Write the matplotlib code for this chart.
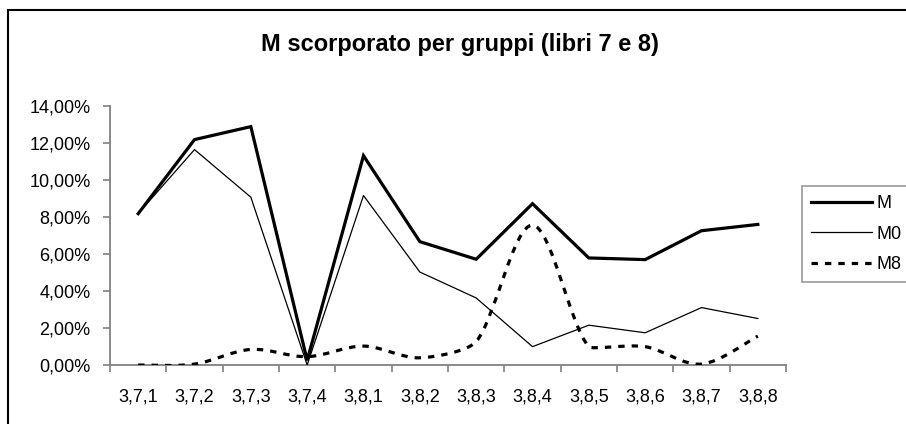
import matplotlib
matplotlib.use("Agg")
import matplotlib.pyplot as plt
from matplotlib.path import Path
from matplotlib.patches import PathPatch, Rectangle
from matplotlib.lines import Line2D
import numpy as np

categories = ["3,7,1", "3,7,2", "3,7,3", "3,7,4", "3,8,1", "3,8,2",
              "3,8,3", "3,8,4", "3,8,5", "3,8,6", "3,8,7", "3,8,8"]
M = [8.17, 12.17, 12.87, 0.25, 11.30, 6.66, 5.71, 8.71, 5.78, 5.69, 7.25, 7.59]
M0 = [8.17, 11.63, 9.06, 0.0, 9.15, 5.02, 3.62, 0.99, 2.15, 1.74, 3.10, 2.51]
M8 = [0.0, 0.05, 0.84, 0.45, 1.02, 0.39, 1.26, 7.55, 0.99, 0.99, 0.05, 1.56]
ytick_vals = [0, 2, 4, 6, 8, 10, 12, 14]
ytick_labels = ["0,00%", "2,00%", "4,00%", "6,00%", "8,00%", "10,00%", "12,00%", "14,00%"]
title = "M scorporato per gruppi (libri 7 e 8)"

plt.rcParams['font.family'] = ['Liberation Sans', 'DejaVu Sans']

W, H = 906, 424
fig = plt.figure(figsize=(W / 100, H / 100), dpi=100)
fig.patch.set_facecolor("white")

# outer chart border
fig.patches.append(Rectangle((8 / W, -0.1), 1.2, 1 - 10 / H + 0.1,
                             transform=fig.transFigure, fill=False,
                             edgecolor="black", linewidth=1.5))

ax = fig.add_axes([110 / W, (H - 365) / H, (786 - 110) / W, (365 - 105.7) / H])
x = np.arange(len(categories))
ax.set_xlim(-0.5, len(categories) - 0.5)
ax.set_ylim(0, 14)

ax.plot(x, M, color="black", linewidth=2.3, solid_joinstyle="miter", label="M", zorder=3)
ax.plot(x, M0, color="black", linewidth=0.9, label="M0", zorder=3)

# smoothed M8 (Excel-style smooth line: Bezier with capped control points)
pix = ax.transData.transform(np.column_stack([x, M8]).astype(float))
S = 8.0  # vertical stretch of the internal smoothing space
q = pix * np.array([1.0, S])
n = len(q)
verts = [tuple(q[0])]
codes = [Path.MOVETO]
for i in range(n - 1):
    p0 = q[i - 1] if i > 0 else q[i]
    p1 = q[i]
    p2 = q[i + 1]
    p3 = q[i + 2] if i + 2 < n else q[i + 1]
    d12 = np.hypot(*(p2 - p1))
    d02 = np.hypot(*(p2 - p0))
    d13 = np.hypot(*(p3 - p1))
    f = 1 / 6 if d02 / 6 < d12 / 2 else d12 / (2 * d02)
    g = 1 / 6 if d13 / 6 < d12 / 2 else d12 / (2 * d13)
    c1 = p1 + (p2 - p0) * f
    c2 = p2 - (p3 - p1) * g
    verts += [tuple(c1), tuple(c2), tuple(p2)]
    codes += [Path.CURVE4] * 3
verts = np.array(verts) / np.array([1.0, S])
data_verts = ax.transData.inverted().transform(verts)
patch = PathPatch(Path(data_verts, codes), facecolor="none", edgecolor="black",
                  linewidth=2.3, linestyle=(0, (2, 2.2)), zorder=3)
ax.add_patch(patch)

ax.set_yticks(ytick_vals)
ax.set_yticklabels(ytick_labels, fontsize=13)
ax.set_xticks(x)
ax.set_xticklabels(categories, fontsize=13)
ax.set_xticks(np.arange(-0.5, len(categories), 1.0), minor=True)
ax.tick_params(axis="x", which="major", length=0, pad=17)
ax.tick_params(axis="x", which="minor", length=5, width=1.2, color="#808080")
ax.tick_params(axis="y", which="major", length=5, width=1.2, color="#808080", pad=9)

for s in ["top", "right"]:
    ax.spines[s].set_visible(False)
for s in ["left", "bottom"]:
    ax.spines[s].set_color("#808080")
    ax.spines[s].set_linewidth(1.3)

fig.text(0.5 * (262 + 658) / W, 1 - 45 / H, title, ha="center", va="center",
         fontsize=17, fontweight="bold")

handles = [Line2D([], [], color="black", linewidth=2.3),
           Line2D([], [], color="black", linewidth=0.9),
           Line2D([], [], color="black", linewidth=2.3, linestyle=(0, (2, 2.2)))]
leg = fig.legend(handles, ["M", "M0", "M8"], loc="upper left",
                 bbox_to_anchor=(802 / W, 1 - 186 / H), fontsize=13,
                 frameon=True, fancybox=False, handlelength=3.4,
                 handletextpad=0.2, labelspacing=0.75, borderpad=0.5,
                 borderaxespad=0)
leg.get_frame().set_edgecolor("#808080")
leg.get_frame().set_linewidth(1.2)

fig.savefig("out.png", dpi=100)
